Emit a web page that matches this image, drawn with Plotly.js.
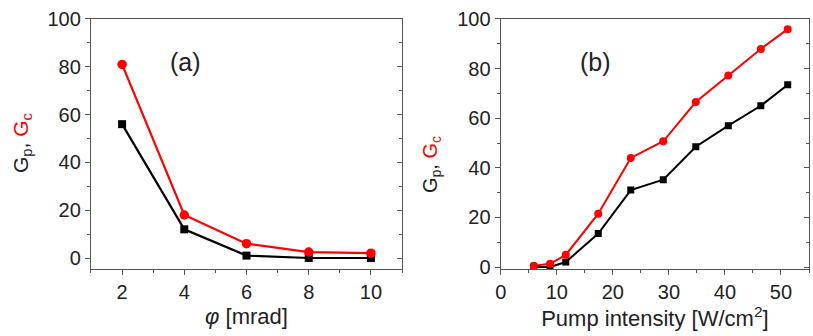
<!DOCTYPE html>
<html><head><meta charset="utf-8">
<script src="https://cdn.plot.ly/plotly-3.0.1.min.js"></script>
<style>html,body{margin:0;padding:0;background:#fff}</style></head>
<body>
<div id="chart" style="width:813px;height:336px"></div>
<script>
// Panel (a)
const phi = [2, 4, 6, 8, 10];
const gpA = [56, 12, 1, 0, 0];
const gcA = [81, 18, 6, 2.5, 2];
// Panel (b)
const pump = [5.9, 8.8, 11.6, 17.4, 23.2, 29.0, 34.8, 40.6, 46.4, 51.2];
const gpB = [0, 0, 2, 13.5, 31, 35.2, 48.5, 57, 65, 73.5];
const gcB = [0.5, 1.3, 4.9, 21.5, 44, 50.7, 66.5, 77.2, 87.9, 95.9];

const RED = '#f00', BLACK = '#000', AX = '#555', TXT = '#222';
const FONT = 'Liberation Sans, Arial, sans-serif';

const traces = [
  {x: phi, y: gpA, xaxis: 'x', yaxis: 'y', mode: 'lines+markers',
   line: {color: BLACK, width: 2.2}, marker: {symbol: 'square', size: 8, color: BLACK}},
  {x: phi, y: gcA, xaxis: 'x', yaxis: 'y', mode: 'lines+markers',
   line: {color: RED, width: 2.2}, marker: {symbol: 'circle', size: 9.5, color: RED}},
  {x: pump, y: gpB, xaxis: 'x2', yaxis: 'y2', mode: 'lines+markers',
   line: {color: BLACK, width: 2}, marker: {symbol: 'square', size: 7, color: BLACK}},
  {x: pump, y: gcB, xaxis: 'x2', yaxis: 'y2', mode: 'lines+markers',
   line: {color: RED, width: 2}, marker: {symbol: 'circle', size: 8, color: RED}}
];

function xax(dom, range, dtick, anchor, title, standoff) {
  return {domain: dom, range: range, anchor: anchor, dtick: dtick, tick0: 0,
    showgrid: false, zeroline: false, showline: true, linecolor: AX, linewidth: 1.2, mirror: true,
    ticks: 'outside', ticklen: 5, tickcolor: AX,
    minor: {dtick: dtick / 2, ticks: 'outside', ticklen: 3, tickcolor: AX},
    tickfont: {family: FONT, size: 20, color: TXT},
    title: {text: title, standoff: standoff, font: {family: FONT, size: 22, color: TXT}}};
}
function yax(dom, range, anchor) {
  return {domain: dom, range: range, anchor: anchor, dtick: 20, tick0: 0,
    showgrid: false, zeroline: false, showline: true, linecolor: AX, linewidth: 1.2, mirror: true,
    ticks: 'outside', ticklen: 5, tickcolor: AX,
    minor: {dtick: 10, ticks: 'outside', ticklen: 3, tickcolor: AX},
    tickfont: {family: FONT, size: 20, color: TXT}};
}
function yin(dom, range, anchor, over) {
  return {domain: dom, range: range, anchor: anchor, overlaying: over, side: 'right',
    dtick: 20, tick0: 0, showgrid: false, zeroline: false, showline: false,
    showticklabels: false, ticks: 'inside', ticklen: 5, tickcolor: AX,
    minor: {dtick: 10, ticks: 'inside', ticklen: 3, tickcolor: AX}};
}

const yd = [0.1994, 0.9435];
const ytitle = 'G<sub>p</sub>, <span style="color:#f00">G<sub>c</sub></span>';
const layout = {
  width: 813, height: 336, margin: {l: 0, r: 0, t: 0, b: 0},
  paper_bgcolor: '#fff', plot_bgcolor: '#fff', showlegend: false,
  font: {family: FONT, color: TXT},
  xaxis: xax([0.1119, 0.4945], [1, 11], 2, 'y', '<i>φ</i> [mrad]', 6),
  yaxis: yax(yd, [-4.6, 100], 'x'),
  xaxis2: xax([0.6159, 0.9951], [0, 55], 10, 'y2', 'Pump intensity [W/cm<sup>2</sup>]', 8),
  yaxis2: yax(yd, [-0.8, 100], 'x2'),
  yaxis3: yin(yd, [-4.6, 100], 'x', 'y'),
  yaxis4: yin(yd, [-0.8, 100], 'x2', 'y2'),
  annotations: [
    {text: '(a)', xref: 'paper', yref: 'paper', x: 185 / 813, y: 1 - 62 / 336,
     xanchor: 'center', yanchor: 'middle', showarrow: false,
     font: {family: FONT, size: 25, color: TXT}},
    {text: '(b)', xref: 'paper', yref: 'paper', x: 595 / 813, y: 1 - 62 / 336,
     xanchor: 'center', yanchor: 'middle', showarrow: false,
     font: {family: FONT, size: 25, color: TXT}},
    {text: ytitle, textangle: -90, xref: 'paper', yref: 'paper', x: 22 / 813, y: 1 - 143 / 336,
     xanchor: 'center', yanchor: 'middle', showarrow: false,
     font: {family: FONT, size: 21, color: TXT}},
    {text: ytitle, textangle: -90, xref: 'paper', yref: 'paper', x: 431 / 813, y: 1 - 165 / 336,
     xanchor: 'center', yanchor: 'middle', showarrow: false,
     font: {family: FONT, size: 20, color: TXT}}
  ]
};
// empty anchors so the inward-tick overlay axes are drawn
traces.push({x: [], y: [], xaxis: 'x', yaxis: 'y3', hoverinfo: 'skip', showlegend: false});
traces.push({x: [], y: [], xaxis: 'x2', yaxis: 'y4', hoverinfo: 'skip', showlegend: false});

Plotly.newPlot('chart', traces, layout, {staticPlot: true, displayModeBar: false});
</script>
</body></html>
